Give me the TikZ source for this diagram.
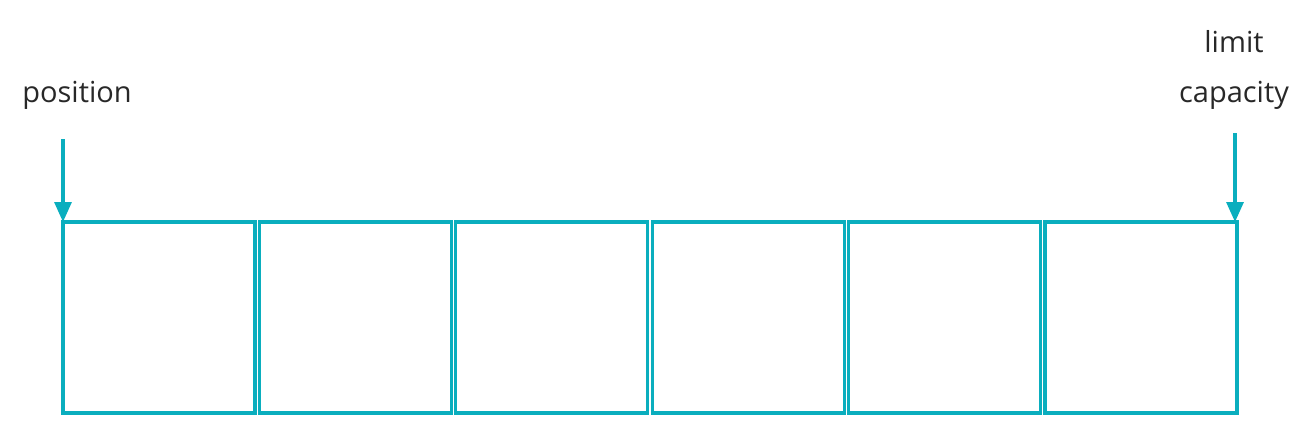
\documentclass[tikz,border=0pt]{standalone}
\usepackage{fontspec}
\setmainfont{Open Sans}
\usetikzlibrary{arrows.meta}
\definecolor{teal1}{RGB}{10,174,190}
\definecolor{txt}{RGB}{40,40,40}
\tikzset{
  cell/.style={draw=teal1, line width=3.2pt, minimum width=192pt, minimum height=191pt, inner sep=0pt, outer sep=0pt, anchor=north west},
  lbl/.style={text=txt, font=\fontsize{29pt}{34pt}\selectfont, inner sep=0pt},
  ptr/.style={draw=teal1, line width=3.2pt, -{Triangle[width=17pt,length=20pt]}}
}
\begin{document}
\begin{tikzpicture}[x=1pt,y=-1pt]
\useasboundingbox (0,0) rectangle (1316,420);
\foreach \i in {1,...,6}{
  \node[cell] (c\i) at ({63+196.4*(\i-1)},222) {};
}
\node[lbl] (pos) at (77,95) {position};
\node[lbl] (lim) at (1234,42) {limit};
\node[lbl] (cap) at (1234,95) {capacity};
\coordinate (ps) at (63,139);
\coordinate (cs) at (1235,133);
\draw[ptr] (ps) -- (ps |- c1.north);
\draw[ptr] (cs) -- (cs |- c6.north);
\end{tikzpicture}
\end{document}
